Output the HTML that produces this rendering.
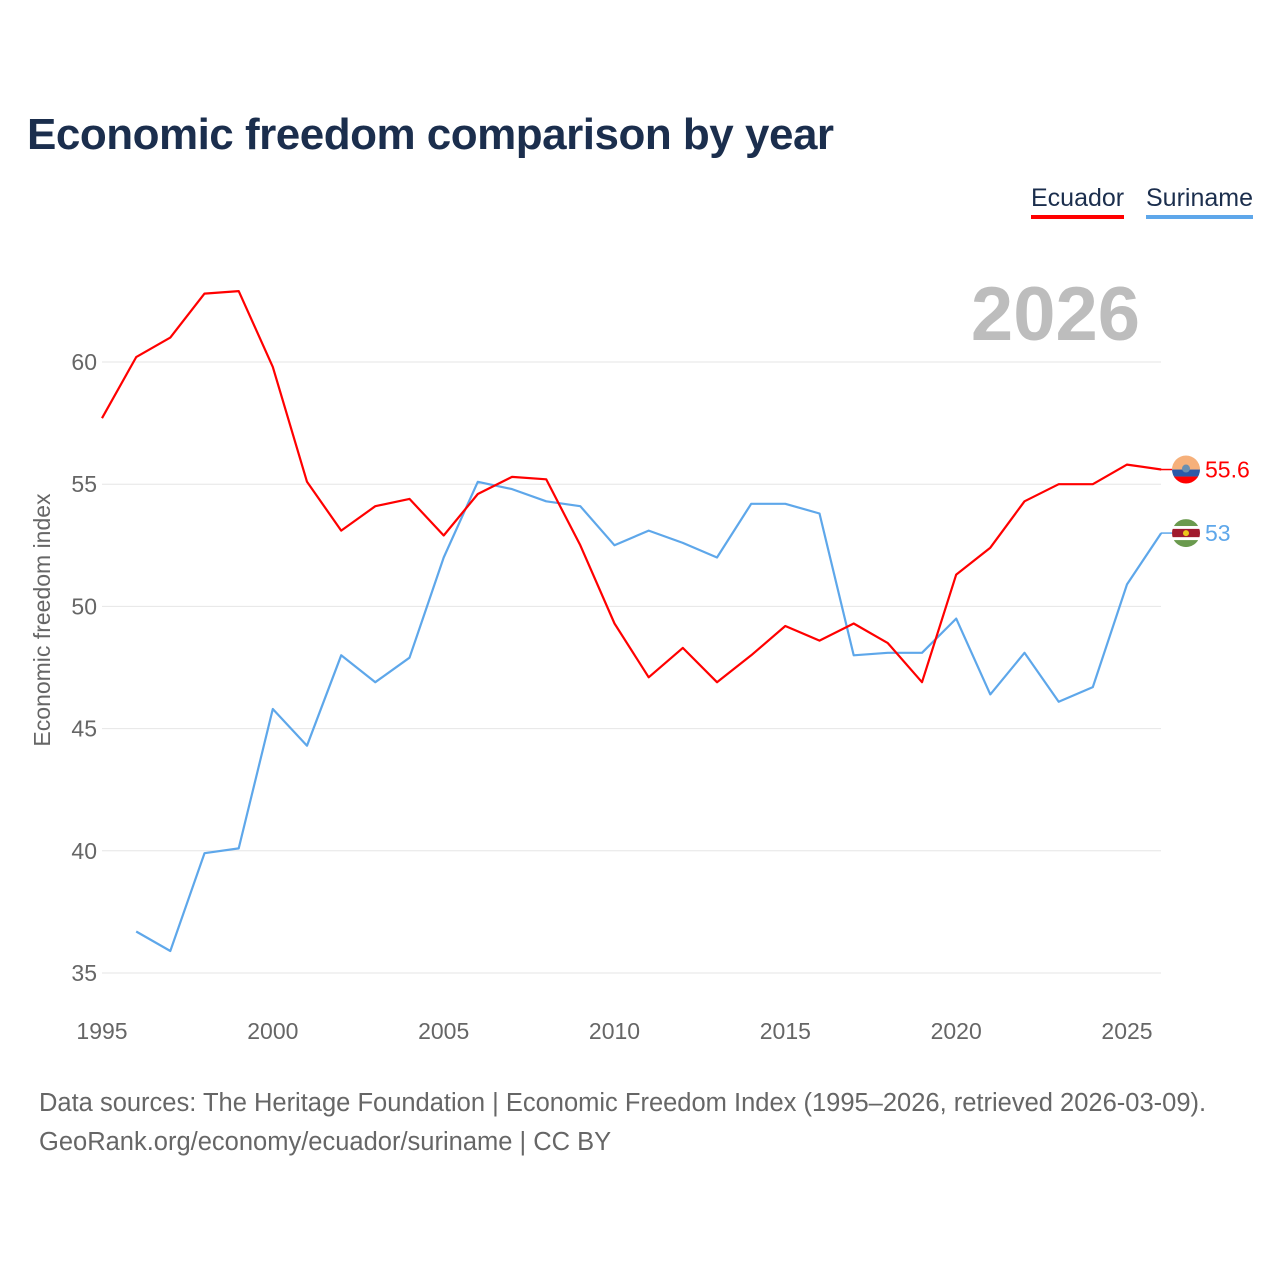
<!DOCTYPE html>
<html><head><meta charset="utf-8">
<style>
html,body{margin:0;padding:0;background:#fff;}
body{width:1280px;height:1280px;position:relative;overflow:hidden;font-family:"Liberation Sans",sans-serif;}
#title{position:absolute;left:27px;top:110px;font-size:44px;font-weight:bold;color:#1b2e4d;margin:0;letter-spacing:-0.5px;}
.leg{position:absolute;top:184px;font-size:25px;padding-bottom:2px;}
#foot{position:absolute;left:39px;top:1084px;font-size:25.5px;color:#666;line-height:39px;}
</style></head><body>
<h1 id="title">Economic freedom comparison by year</h1>
<div class="leg" style="left:1031px;color:#1b2e4d;border-bottom:4px solid #f00;">Ecuador</div>
<div class="leg" style="left:1146px;color:#1b2e4d;border-bottom:4px solid #5ea7ea;">Suriname</div>
<svg id="chart" width="1280" height="1280" style="position:absolute;left:0;top:0;"></svg>
<div id="foot">Data sources: The Heritage Foundation | Economic Freedom Index (1995–2026, retrieved 2026-03-09).<br>GeoRank.org/economy/ecuador/suriname | CC BY</div>
<script>
const years=[1995,1996,1997,1998,1999,2000,2001,2002,2003,2004,2005,2006,2007,2008,2009,2010,2011,2012,2013,2014,2015,2016,2017,2018,2019,2020,2021,2022,2023,2024,2025,2026];
const ecuador=[57.7,60.2,61.0,62.8,62.9,59.8,55.1,53.1,54.1,54.4,52.9,54.6,55.3,55.2,52.5,49.3,47.1,48.3,46.9,48.0,49.2,48.6,49.3,48.5,46.9,51.3,52.4,54.3,55.0,55.0,55.8,55.6];
const suriname=[null,36.7,35.9,39.9,40.1,45.8,44.3,48.0,46.9,47.9,52.0,55.1,54.8,54.3,54.1,52.5,53.1,52.6,52.0,54.2,54.2,53.8,48.0,48.1,48.1,49.5,46.4,48.1,46.1,46.7,50.9,53.0];
const yTicks=[35,40,45,50,55,60];
const xTicks=[1995,2000,2005,2010,2015,2020,2025];
const NS="http://www.w3.org/2000/svg";
const svg=document.getElementById('chart');
function x(yr){return 102+(yr-1995)*(1127-102)/30;}
function y(v){return 973-(v-35)*(973-362)/25;}
function mk(tag,attrs,parent){const e=document.createElementNS(NS,tag);for(const k in attrs)e.setAttribute(k,attrs[k]);(parent||svg).appendChild(e);return e;}
yTicks.forEach(t=>{
  const g=mk('line',{x1:102,x2:1161,y1:y(t),y2:y(t),stroke:'#e6e6e6','stroke-width':1});
  
  
  const l=mk('text',{x:97,y:y(t)+8,'text-anchor':'end','font-size':23,fill:'#666','font-family':'Liberation Sans, sans-serif'});
  l.textContent=t;
  
  
});
xTicks.forEach(t=>{
  const l=mk('text',{x:x(t),y:1039,'text-anchor':'middle','font-size':23,fill:'#666','font-family':'Liberation Sans, sans-serif'});
  l.textContent=t;
  
  
});
const yt=mk('text',{transform:'translate(50,620) rotate(-90)','text-anchor':'middle','font-size':23,fill:'#666','font-family':'Liberation Sans, sans-serif'});
yt.textContent='Economic freedom index';


const yr=mk('text',{x:1140,y:340,'text-anchor':'end','font-size':76,'font-weight':'bold',fill:'#bdbdbd','font-family':'Liberation Sans, sans-serif'});
yr.textContent='2026';


const defs=mk('defs',{});
function line(vals,color,name,stripes){
  let d='';
  vals.forEach((v,i)=>{if(v==null)return;d+=(d?'L':'M')+x(years[i]).toFixed(1)+','+y(v).toFixed(1);});
  const p=mk('path',{d:d,fill:'none',stroke:color,'stroke-width':2.2,'stroke-linejoin':'round'});
  
  
  const last=vals[vals.length-1];
  const cy=y(last);
  mk('line',{x1:1161,x2:1172,y1:cy,y2:cy,stroke:color,'stroke-width':1.5});
  const cp=mk('clipPath',{id:'clip-'+name},defs);
  mk('circle',{cx:1186,cy:cy,r:14},cp);
  const g=mk('g',{'clip-path':'url(#clip-'+name+')'});
  
  
  let yy=cy-14;
  stripes.forEach(s=>{mk('rect',{x:1172,y:yy,width:28,height:28*s[1],fill:s[0]},g);yy+=28*s[1];});
  if(name==='suriname')mk('circle',{cx:1186,cy:cy,r:3,fill:'#ecc81d'},g);
  if(name==='ecuador')mk('circle',{cx:1186,cy:cy-1,r:4,fill:'#6a8fb0'},g);
  const t=mk('text',{x:1205,y:cy+8,'font-size':23,fill:color,'font-family':'Liberation Sans, sans-serif'});
  t.textContent=last;
  
  
}
line(suriname,'#5ea7ea','suriname',[['#6a9a4e',0.25],['#fff',0.1],['#a01a2e',0.3],['#fff',0.1],['#6a9a4e',0.25]]);
line(ecuador,'#ff0000','ecuador',[['#f6b07a',0.5],['#2b5aa8',0.25],['#f00',0.25]]);
</script>
</body></html>
